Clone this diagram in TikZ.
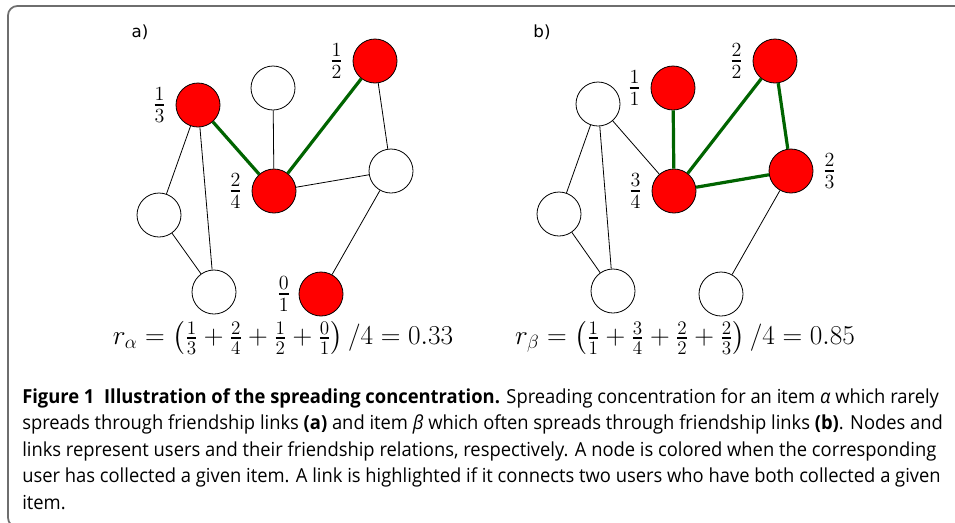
\RequirePackage{fix-cm}
\documentclass[tikz,border=0pt]{standalone}
\usepackage{fontspec}
\usepackage{amsmath}
\newfontfamily\capfont[FakeStretch=0.95]{Open Sans}
\newfontfamily\panelfont{DejaVu Sans}
\usetikzlibrary{positioning}
\definecolor{linkgreen}{RGB}{0,100,0}
\definecolor{framegray}{RGB}{110,110,110}

\begin{document}
\begin{tikzpicture}[x=0.75pt,y=-0.75pt,
  user/.style={circle,draw=black,line width=0.6pt,fill=white,minimum size=33pt,inner sep=0pt},
  hit/.style={user,fill=red},
  link/.style={black,line width=0.6pt},
  hot/.style={linkgreen,line width=2.4pt},
  share/.style={font=\fontsize{21.5}{25}\selectfont,inner sep=0pt},
  ratio/.style={font=\fontsize{20.5}{24}\selectfont,inner sep=0pt},
  panel/.style={font=\panelfont\fontsize{12.5}{15}\selectfont,inner sep=0pt},
  capline/.style={font=\capfont\fontsize{14.5}{17}\selectfont,anchor=base west,inner sep=0pt}]
\useasboundingbox (0,0) rectangle (955,522);
\draw[framegray,line width=1.3pt,rounded corners=7pt] (958,6) -- (8,6) -- (8,527) -- (958,527);

\node[panel] (pa) at (140,32) {a)};
\node[hit] (a13) at (198,105) {};
\node[user] (atop) at (273,88) {};
\node[hit] (a12) at (375,61) {};
\node[hit] (a24) at (274,191) {};
\node[user] (aright) at (391,171) {};
\node[user] (aleft) at (159,215) {};
\node[user] (abot) at (214,292) {};
\node[hit] (a01) at (321,294) {};
\draw[hot] (a13) -- (a24);
\draw[hot] (a24) -- (a12);
\draw[link] (a24) -- (atop);
\draw[link] (a12) -- (aright);
\draw[link] (a24) -- (aright);
\draw[link] (aright) -- (a01);
\draw[link] (a13) -- (aleft);
\draw[link] (a13) -- (abot);
\draw[link] (aleft) -- (abot);
\node[share,left=7pt of a13] (fa13) {$\tfrac{1}{3}$};
\node[share,left=7pt of a12] (fa12) {$\tfrac{1}{2}$};
\node[share,left=7pt of a24] (fa24) {$\tfrac{2}{4}$};
\node[share,left=6pt of a01] (fa01) {$\tfrac{0}{1}$};
\node[ratio] (ra) at (283,338) {$r_\alpha = \left(\tfrac{1}{3}+\tfrac{2}{4}+\tfrac{1}{2}+\tfrac{0}{1}\right)/4 = 0.33$};

\node[panel] (pb) at (542,32) {b)};
\node[user] (btop) at (598,104) {};
\node[hit] (b11) at (673,88) {};
\node[hit] (b22) at (775,61) {};
\node[hit] (b34) at (674,191) {};
\node[hit] (b23) at (791,171) {};
\node[user] (bleft) at (559,214) {};
\node[user] (bbot) at (613,291) {};
\node[user] (bbotr) at (721,294) {};
\draw[hot] (b11) -- (b34);
\draw[hot] (b34) -- (b22);
\draw[hot] (b22) -- (b23);
\draw[hot] (b34) -- (b23);
\draw[link] (btop) -- (b34);
\draw[link] (btop) -- (bleft);
\draw[link] (btop) -- (bbot);
\draw[link] (bleft) -- (bbot);
\draw[link] (b23) -- (bbotr);
\node[share,left=7pt of b11] (fb11) {$\tfrac{1}{1}$};
\node[share,left=7pt of b22] (fb22) {$\tfrac{2}{2}$};
\node[share,left=7pt of b34] (fb34) {$\tfrac{3}{4}$};
\node[share,right=7pt of b23] (fb23) {$\tfrac{2}{3}$};
\node[ratio] (rb) at (685,338) {$r_\beta = \left(\tfrac{1}{1}+\tfrac{3}{4}+\tfrac{2}{2}+\tfrac{2}{3}\right)/4 = 0.85$};

\node[capline] (c1) at (22,403) {\textbf{Figure 1\enspace Illustration of the spreading concentration.} Spreading concentration for an item \textit{α} which rarely};
\node[capline] (c2) at (22,429.5) {spreads through friendship links \textbf{(a)} and item \textit{β} which often spreads through friendship links \textbf{(b)}. Nodes and};
\node[capline] (c3) at (22,456) {links represent users and their friendship relations, respectively. A node is colored when the corresponding};
\node[capline] (c4) at (22,482.5) {user has collected a given item. A link is highlighted if it connects two users who have both collected a given};
\node[capline] (c5) at (22,509) {item.};
\end{tikzpicture}
\end{document}
